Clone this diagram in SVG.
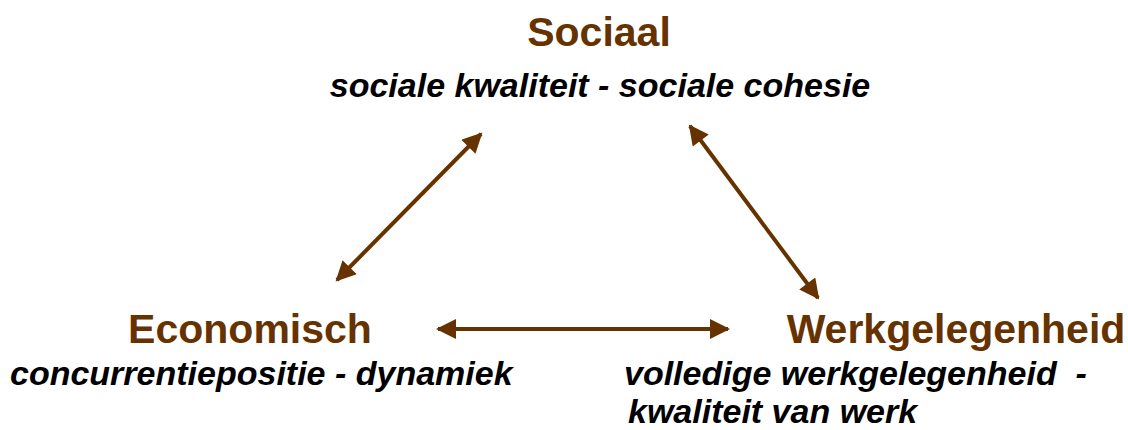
<svg xmlns="http://www.w3.org/2000/svg" width="1128" height="430" viewBox="0 0 1128 430">
<defs>
<style>
.h{font-family:"Liberation Sans",Arial,sans-serif;font-weight:bold;font-size:41px;fill:#663300}
.s{font-family:"Liberation Sans",Arial,sans-serif;font-weight:bold;font-style:italic;font-size:34px;fill:#000}
.c{stroke:#663300;stroke-width:4;fill:none}
</style>
<marker id="ah" viewBox="0 0 10 10" refX="9" refY="5" markerWidth="5.5" markerHeight="5" markerUnits="strokeWidth" orient="auto-start-reverse">
<path d="M0,0 L10,5 L0,10 Z" fill="#663300"/>
</marker>
</defs>
<rect width="1128" height="430" fill="#fff"/>
<g id="sociaal">
<text class="h" x="599" y="46" text-anchor="middle">Sociaal</text>
<text class="s" x="600" y="97" text-anchor="middle">sociale kwaliteit - sociale cohesie</text>
</g>
<g id="economisch">
<text class="h" x="250" y="343" text-anchor="middle">Economisch</text>
<text class="s" x="10" y="385">concurrentiepositie - dynamiek</text>
</g>
<g id="werkgelegenheid">
<text class="h" x="956" y="343" text-anchor="middle">Werkgelegenheid</text>
<text class="s" x="624" y="385" xml:space="preserve">volledige werkgelegenheid  -</text>
<text class="s" x="628" y="423">kwaliteit van werk</text>
</g>
<g id="connectors">
<line class="c" x1="337" y1="280" x2="481" y2="134" marker-start="url(#ah)" marker-end="url(#ah)"/>
<line class="c" x1="690" y1="126" x2="818" y2="298" marker-start="url(#ah)" marker-end="url(#ah)"/>
<line class="c" x1="438" y1="329" x2="728" y2="329" marker-start="url(#ah)" marker-end="url(#ah)"/>
</g>
</svg>
